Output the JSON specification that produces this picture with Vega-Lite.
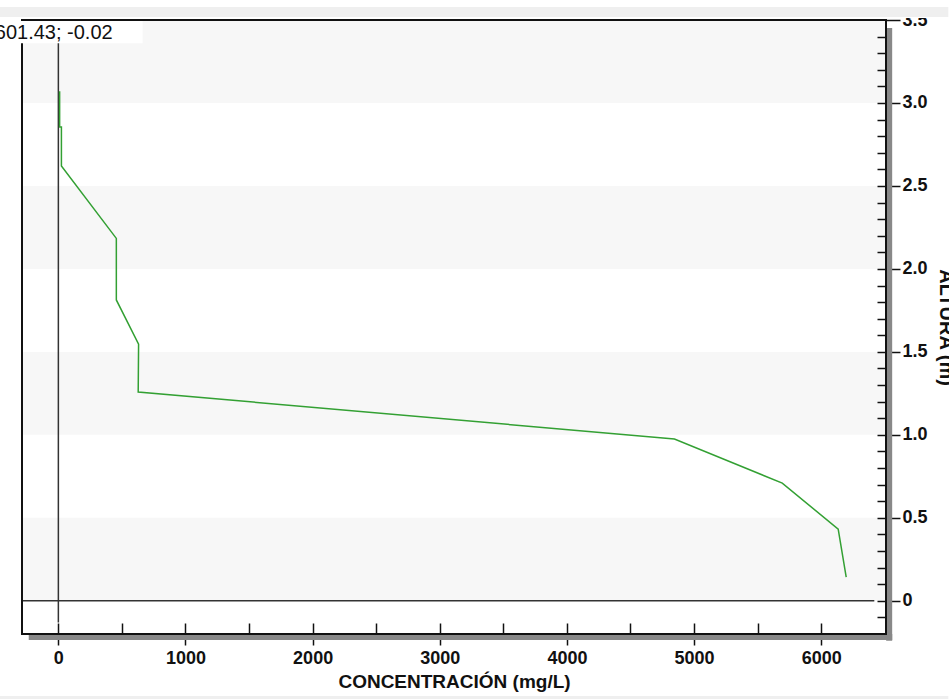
{
  "$schema": "https://vega.github.io/schema/vega-lite/v6.json",
  "width": 864,
  "height": 614,
  "autosize": {"type": "none"},
  "padding": {"left": 22, "top": 20, "right": 63, "bottom": 65},
  "background": "white",
  "view": {"stroke": null},
  "config": {"font": "Liberation Sans"},
  "data": {"name": "readout"},
  "datasets": {
    "profile": [
      {"seq": 1, "conc": 10, "altura": 3.07},
      {"seq": 2, "conc": 10, "altura": 2.855},
      {"seq": 3, "conc": 24, "altura": 2.855},
      {"seq": 4, "conc": 24, "altura": 2.62},
      {"seq": 5, "conc": 456, "altura": 2.184},
      {"seq": 6, "conc": 456, "altura": 1.813},
      {"seq": 7, "conc": 631, "altura": 1.547},
      {"seq": 8, "conc": 628, "altura": 1.258},
      {"seq": 9, "conc": 4846, "altura": 0.975},
      {"seq": 10, "conc": 5694, "altura": 0.709},
      {"seq": 11, "conc": 6134, "altura": 0.432},
      {"seq": 12, "conc": 6197, "altura": 0.143}
    ],
    "bands": [
      {"from": 0, "to": 0.5},
      {"from": 1, "to": 1.5},
      {"from": 2, "to": 2.5},
      {"from": 3, "to": 3.5}
    ],
    "readout": [{"label": "601.43; -0.02"}]
  },
  "layer": [
    {
      "data": {"name": "bands"},
      "mark": {"type": "rect", "color": "#f7f7f7", "opacity": 1},
      "encoding": {
        "y": {"field": "from", "type": "quantitative", "scale": {"domain": [-0.2, 3.5], "nice": false, "zero": false}, "axis": null},
        "y2": {"field": "to"}
      }
    },
    {
      "mark": {"type": "rule", "stroke": "#333333", "strokeWidth": 1.5},
      "encoding": {
        "x": {"datum": -286, "type": "quantitative", "scale": {"domain": [-286, 6510], "nice": false, "zero": false},
          "axis": {"orient": "bottom", "values": [0, 1000, 2000, 3000, 4000, 5000, 6000], "format": "d", "domain": false, "grid": false,
            "tickSize": 11, "tickColor": "#111111", "tickWidth": 1.5, "labelPadding": 4, "labelFontSize": 18, "labelFontWeight": "bold", "labelColor": "#111111",
            "title": "CONCENTRACIÓN (mg/L)", "titleFontSize": 19, "titleFontWeight": "bold", "titleColor": "#111111", "titlePadding": 5, "zindex": 0}},
        "x2": {"datum": 6418},
        "y": {"datum": 0, "type": "quantitative", "scale": {"domain": [-0.2, 3.5], "nice": false, "zero": false},
          "axis": {"orient": "right", "values": [0, 0.5, 1, 1.5, 2, 2.5, 3, 3.5], "labelExpr": "datum.value === 0 ? '0' : format(datum.value, '.1f')",
            "domain": false, "grid": false, "tickSize": 14, "tickColor": "#111111", "tickWidth": 1.5, "labelPadding": 2, "labelFontSize": 18, "labelFontWeight": "bold", "labelColor": "#111111",
            "title": "ALTURA (m)", "titleFontSize": 20, "titleFontWeight": "bold", "titleColor": "#111111", "titlePadding": 8, "zindex": 0}}
      }
    },
    {
      "mark": {"type": "rule", "stroke": "#333333", "strokeWidth": 1.5},
      "encoding": {
        "x": {"datum": 0, "type": "quantitative", "scale": {"domain": [-286, 6510], "nice": false, "zero": false}, "axis": null},
        "y": {"datum": 3.5, "type": "quantitative", "scale": {"domain": [-0.2, 3.5], "nice": false, "zero": false}, "axis": null},
        "y2": {"datum": -0.13}
      }
    },
    {
      "data": {"name": "profile"},
      "mark": {"type": "line", "stroke": "#33a033", "strokeWidth": 1.5},
      "encoding": {
        "order": {"field": "seq", "type": "quantitative"},
        "x": {"field": "conc", "type": "quantitative", "scale": {"domain": [-286, 6510], "nice": false, "zero": false},
          "axis": {"orient": "bottom", "values": [0, 500, 1000, 1500, 2000, 2500, 3000, 3500, 4000, 4500, 5000, 5500, 6000],
            "labels": false, "domain": false, "grid": false, "tickSize": -11, "tickColor": "#111111", "tickWidth": 1.5, "title": null, "zindex": 1}},
        "y": {"field": "altura", "type": "quantitative", "scale": {"domain": [-0.2, 3.5], "nice": false, "zero": false},
          "axis": {"orient": "right", "values": [-0.1, 0, 0.1, 0.2, 0.3, 0.4, 0.5, 0.6, 0.7, 0.8, 0.9, 1, 1.1, 1.2, 1.3, 1.4, 1.5, 1.6, 1.7, 1.8, 1.9, 2, 2.1, 2.2, 2.3, 2.4, 2.5, 2.6, 2.7, 2.8, 2.9, 3, 3.1, 3.2, 3.3, 3.4],
            "labels": false, "domain": false, "grid": false, "tickSize": -9, "tickColor": "#111111", "tickWidth": 1.5, "title": null, "zindex": 1}}
      }
    },
    {
      "mark": {"type": "rule", "stroke": "#888888", "strokeWidth": 6, "clip": false},
      "encoding": {
        "x": {"datum": 6535, "type": "quantitative", "scale": {"domain": [-286, 6510], "nice": false, "zero": false}, "axis": null},
        "y": {"datum": 3.452, "type": "quantitative", "scale": {"domain": [-0.2, 3.5], "nice": false, "zero": false}, "axis": null},
        "y2": {"datum": -0.24}
      }
    },
    {
      "mark": {"type": "rule", "stroke": "#888888", "strokeWidth": 6, "clip": false},
      "encoding": {
        "x": {"datum": -233, "type": "quantitative", "scale": {"domain": [-286, 6510], "nice": false, "zero": false}, "axis": null},
        "x2": {"datum": 6559},
        "y": {"datum": -0.218, "type": "quantitative", "scale": {"domain": [-0.2, 3.5], "nice": false, "zero": false}, "axis": null}
      }
    },
    {
      "mark": {"type": "rect", "filled": false, "stroke": "#111111", "strokeWidth": 2, "clip": false},
      "encoding": {
        "x": {"datum": -286, "type": "quantitative", "scale": {"domain": [-286, 6510], "nice": false, "zero": false}, "axis": null},
        "x2": {"datum": 6510},
        "y": {"datum": -0.2, "type": "quantitative", "scale": {"domain": [-0.2, 3.5], "nice": false, "zero": false}, "axis": null},
        "y2": {"datum": 3.5}
      }
    },
    {
      "mark": {"type": "rect", "color": "white", "opacity": 1, "clip": false},
      "encoding": {
        "x": {"datum": -470, "type": "quantitative", "scale": {"domain": [-286, 6510], "nice": false, "zero": false}, "axis": null},
        "x2": {"datum": 663},
        "y": {"datum": 3.494, "type": "quantitative", "scale": {"domain": [-0.2, 3.5], "nice": false, "zero": false}, "axis": null},
        "y2": {"datum": 3.36}
      }
    },
    {
      "mark": {"type": "text", "align": "right", "baseline": "middle", "fontSize": 20, "color": "#111111", "clip": false},
      "encoding": {
        "text": {"field": "label", "type": "nominal"},
        "x": {"datum": 427, "type": "quantitative", "scale": {"domain": [-286, 6510], "nice": false, "zero": false}, "axis": null},
        "y": {"datum": 3.419, "type": "quantitative", "scale": {"domain": [-0.2, 3.5], "nice": false, "zero": false}, "axis": null}
      }
    },
    {
      "mark": {"type": "rect", "color": "white", "opacity": 1, "clip": false},
      "encoding": {
        "x": {"datum": -470, "type": "quantitative", "scale": {"domain": [-286, 6510], "nice": false, "zero": false}, "axis": null},
        "x2": {"datum": 7000},
        "y": {"datum": 3.7, "type": "quantitative", "scale": {"domain": [-0.2, 3.5], "nice": false, "zero": false}, "axis": null},
        "y2": {"datum": 3.5124}
      }
    },
    {
      "mark": {"type": "rect", "color": "#efefef", "opacity": 1, "clip": false},
      "encoding": {
        "x": {"datum": -470, "type": "quantitative", "scale": {"domain": [-286, 6510], "nice": false, "zero": false}, "axis": null},
        "x2": {"datum": 7000},
        "y": {"datum": 3.579, "type": "quantitative", "scale": {"domain": [-0.2, 3.5], "nice": false, "zero": false}, "axis": null},
        "y2": {"datum": 3.518}
      }
    },
    {
      "mark": {"type": "rect", "color": "#efefef", "opacity": 1, "clip": false},
      "encoding": {
        "x": {"datum": -470, "type": "quantitative", "scale": {"domain": [-286, 6510], "nice": false, "zero": false}, "axis": null},
        "x2": {"datum": 7000},
        "y": {"datum": -0.574, "type": "quantitative", "scale": {"domain": [-0.2, 3.5], "nice": false, "zero": false}, "axis": null},
        "y2": {"datum": -0.7}
      }
    }
  ],
  "resolve": {"axis": {"x": "independent", "y": "independent"}}
}
